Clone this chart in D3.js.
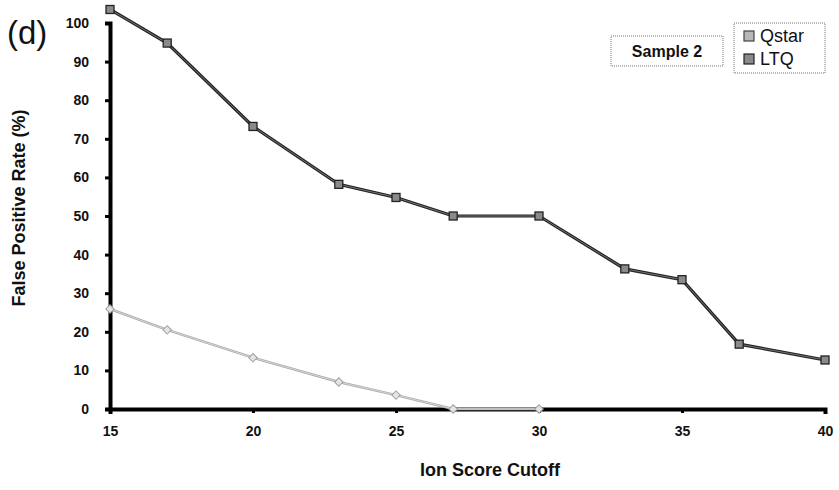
<!DOCTYPE html>
<html>
<head>
<meta charset="utf-8">
<script src="https://cdn.jsdelivr.net/npm/d3@7"></script>
<style>
  body { margin: 0; background: #fff; }
  text { font-family: "Liberation Sans", Arial, sans-serif; }
</style>
</head>
<body>
<svg id="chart" width="839" height="490"></svg>
<script>
// values
const cutoffs = [15, 17, 20, 23, 25, 27, 30, 33, 35, 37, 40];
const ltqRate = [103.5, 94.8, 73.2, 58.2, 54.8, 50, 50, 36.3, 33.5, 16.8, 12.7];
const qstarCutoffs = [15, 17, 20, 23, 25, 27, 30];
const qstarRate = [25.9, 20.5, 13.3, 7, 3.6, 0, 0];
const xTicks = [15, 20, 25, 30, 35, 40];
const yTicks = [0, 10, 20, 30, 40, 50, 60, 70, 80, 90, 100];

const svg = d3.select("#chart");
const margin = { top: 23, right: 14, bottom: 81, left: 110 };
const width = 839 - margin.left - margin.right;
const height = 490 - margin.top - margin.bottom;

const x = d3.scaleLinear().domain([15, 40]).range([0, width]);
const y = d3.scaleLinear().domain([0, 100]).range([height, 0]);

const g = svg.append("g").attr("transform", `translate(${margin.left},${margin.top})`);

// axes
const xAxis = d3.axisBottom(x).tickValues(xTicks).tickSize(5).tickPadding(12).tickFormat(d3.format("d"));
const yAxis = d3.axisLeft(y).tickValues(yTicks).tickSize(5).tickPadding(16).tickFormat(d3.format("d"));

const gx = g.append("g").attr("transform", `translate(0,${height})`).call(xAxis);
const gy = g.append("g").call(yAxis);

[gx, gy].forEach(a => {
  a.select(".domain").attr("stroke", "#000").attr("stroke-width", 4);
  a.selectAll(".tick line").attr("stroke", "#000").attr("stroke-width", 3);
  a.selectAll(".tick text").attr("font-size", 14).attr("font-weight", "bold").attr("fill", "#111");
});
gx.selectAll(".tick text").attr("dy", "0.71em");
gx.selectAll(".tick line").attr("y2", 4);

// lines
const lineLtq = d3.line().x((d, i) => x(cutoffs[i])).y(d => y(d));
const lineQ = d3.line().x((d, i) => x(qstarCutoffs[i])).y(d => y(d));

g.append("path").datum(qstarRate).attr("d", lineQ)
  .attr("fill", "none").attr("stroke", "#a8a8a8").attr("stroke-width", 2.5);
g.append("path").datum(qstarRate).attr("d", lineQ)
  .attr("fill", "none").attr("stroke", "#e2e2e2").attr("stroke-width", 0.8);

g.append("path").datum(ltqRate).attr("d", lineLtq)
  .attr("fill", "none").attr("stroke", "#222").attr("stroke-width", 3.2);
g.append("path").datum(ltqRate).attr("d", lineLtq)
  .attr("fill", "none").attr("stroke", "#8a8a8a").attr("stroke-width", 0.8);

// markers
g.selectAll(".qm").data(qstarRate).enter().append("rect")
  .attr("class", "qm")
  .attr("x", (d, i) => x(qstarCutoffs[i]) - 3).attr("y", d => y(d) - 3)
  .attr("width", 6).attr("height", 6)
  .attr("transform", (d, i) => `rotate(45,${x(qstarCutoffs[i])},${y(d)})`)
  .attr("fill", "#e4e4e4").attr("stroke", "#a0a0a0").attr("stroke-width", 1);

g.selectAll(".lm").data(ltqRate).enter().append("rect")
  .attr("class", "lm")
  .attr("x", (d, i) => x(cutoffs[i]) - 4).attr("y", d => y(d) - 4)
  .attr("width", 8).attr("height", 8)
  .attr("fill", "#8a8a8a").attr("stroke", "#222").attr("stroke-width", 1.3);

// axis titles
svg.append("text")
  .attr("transform", "translate(25,208) rotate(-90)")
  .attr("text-anchor", "middle")
  .attr("font-size", 18).attr("font-weight", "bold").attr("fill", "#111")
  .text("False Positive Rate (%)");

svg.append("text")
  .attr("x", 490).attr("y", 476)
  .attr("text-anchor", "middle")
  .attr("font-size", 18).attr("font-weight", "bold").attr("fill", "#111")
  .text("Ion Score Cutoff");

// panel label
svg.append("text")
  .attr("x", 7).attr("y", 44)
  .attr("font-size", 33).attr("fill", "#111")
  .text("(d)");

// sample box
svg.append("rect")
  .attr("x", 611).attr("y", 36).attr("width", 112).attr("height", 30)
  .attr("fill", "none").attr("stroke", "#777").attr("stroke-width", 1)
  .attr("stroke-dasharray", "1,1");
svg.append("text")
  .attr("x", 667).attr("y", 57).attr("text-anchor", "middle")
  .attr("font-size", 16).attr("font-weight", "bold").attr("fill", "#111")
  .text("Sample 2");

// legend
const legend = svg.append("g").attr("transform", "translate(734,23)");
legend.append("rect")
  .attr("width", 91).attr("height", 50)
  .attr("fill", "none").attr("stroke", "#777").attr("stroke-width", 1)
  .attr("stroke-dasharray", "1,1");
const entries = [
  { name: "Qstar", fill: "#b8b8b8", stroke: "#444" },
  { name: "LTQ", fill: "#8a8a8a", stroke: "#222" }
];
entries.forEach((e, i) => {
  const row = legend.append("g").attr("transform", `translate(0,${13 + i * 23})`);
  row.append("rect").attr("x", 10).attr("y", -5).attr("width", 10).attr("height", 10)
    .attr("fill", e.fill).attr("stroke", e.stroke).attr("stroke-width", 1.2);
  row.append("text").attr("x", 26).attr("y", 6)
    .attr("font-size", 18).attr("fill", "#111")
    .text(e.name);
});
</script>
</body>
</html>
